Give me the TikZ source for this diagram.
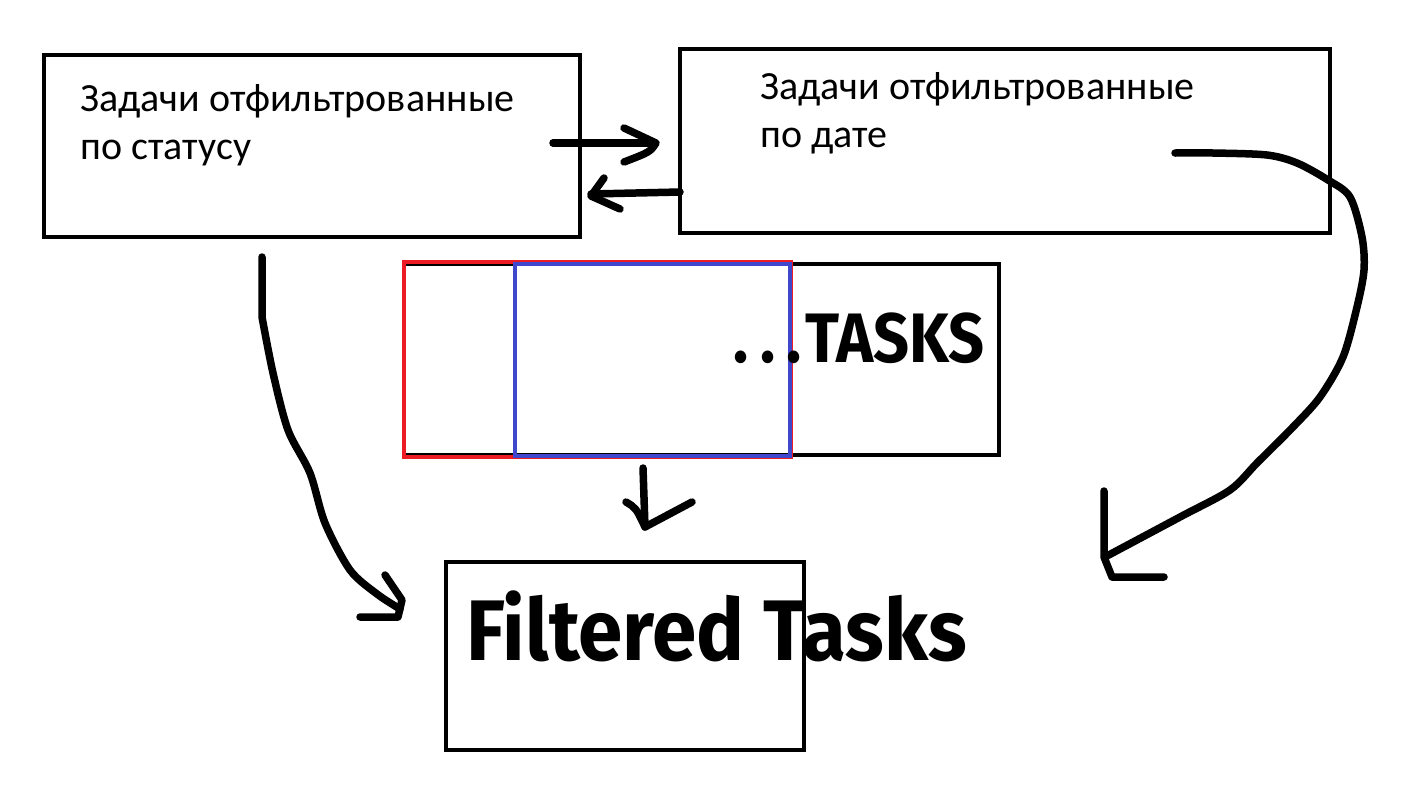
\documentclass[tikz,border=0pt]{standalone}
\usepackage{fontspec}
\newfontfamily\boxfont{Carlito}
\newfontfamily\handfont{Fira Sans}
\definecolor{pred}{HTML}{ED1C24}
\definecolor{pblue}{HTML}{3F48CC}
\begin{document}
\begin{tikzpicture}[x=1pt,y=-1pt,
  box/.style={draw=black,line width=4pt,inner sep=0pt,anchor=north west},
  lbl/.style={font=\boxfont\fontsize{40}{48}\selectfont,align=left,anchor=north west,inner sep=0pt},
  hand/.style={line width=7.5pt,line cap=round,line join=round},
  handtxt/.style={font=\handfont\bfseries,inner sep=0pt}]
\useasboundingbox (0,0) rectangle (1402,807);
% top boxes
\node[box,minimum width=536pt,minimum height=182pt] (st) at (42,53) {};
\node[box,minimum width=650pt,minimum height=184pt] (dt) at (678,47) {};
\node[lbl] (stl) at (80,84) {Задачи отфильтрованные\\по статусу};
\node[lbl] (dtl) at (760,72) {Задачи отфильтрованные\\по дате};
% tasks box
\node[box,minimum width=595pt,minimum height=191pt] (tasks) at (402,262) {};
\node[box,draw=pred,minimum width=387pt,minimum height=195pt] (redw) at (402,260) {};
\node[box,draw=pblue,minimum width=275pt,minimum height=192pt] (bluew) at (513,262) {};
\node[handtxt,xscale=0.9,font=\handfont\bfseries\fontsize{70}{74}\selectfont,anchor=base east] (tl) at (985,362) {.\hspace{14pt}.\hspace{12pt}.\hspace{4pt}TASKS};
% filtered box
\node[box,minimum width=358pt,minimum height=188pt] (ft) at (444,560) {};
\node[handtxt,xscale=0.93,font=\handfont\bfseries\fontsize{86}{90}\selectfont,anchor=base west] (ftl) at (466,660) {Filtered Tasks};
% arrows between top boxes
\coordinate (a1s) at (553,143);
\coordinate (a1e) at (656,143);
\draw[hand] (a1s) -- (650,143);
\draw[hand] (624,128) -- (a1e) .. controls (650,152) .. (624,162);
\coordinate (a2e) at (591,194);
\draw[hand] (680,192) -- (a2e);
\draw[hand] (604,178) -- (591,196) -- (620,209);
% down arrow
\coordinate (dws) at (643,468);
\coordinate (dwe) at (645,527);
\draw[hand] (dws) -- (dwe);
\draw[hand] (626,502) .. controls (636,508) .. (dwe) -- (692,502);
% left curve
\coordinate (lcs) at (262,257);
\coordinate (lce) at (400,609);
\draw[hand] (lcs) -- (262,317) plot[smooth] coordinates {(262,317) (273,373) (288,430) (310,473) (325,523) (350,570) (377,594) (400,609)};
\draw[hand] (385,575) -- (402,600) -- (398,617) -- (360,617);
% right curve
\coordinate (rcs) at (1175,153);
\coordinate (rce) at (1105,557);
\draw[hand] plot[smooth] coordinates {(1175,153) (1213,153) (1267,155) (1297,163) (1328,180) (1350,197) (1362,237) (1364,270) (1357,307) (1343,357) (1320,397) (1293,427) (1257,463) (1230,490) (1180,517) (1105,557)};
\draw[hand] (1104,491) -- (1104,557) -- (1112,577) -- (1164,577);
\end{tikzpicture}
\end{document}
